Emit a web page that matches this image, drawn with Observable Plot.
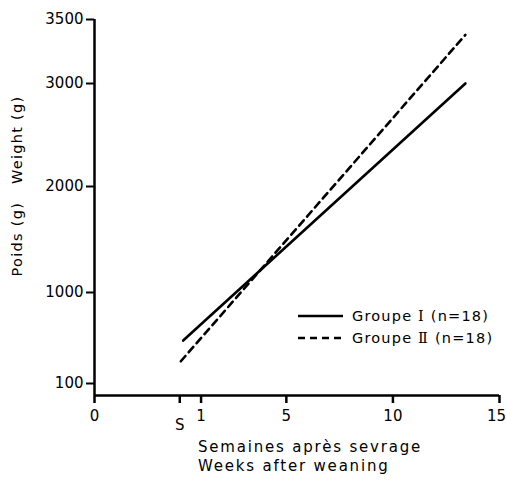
<!DOCTYPE html>
<html>
<head>
<meta charset="utf-8">
<script src="https://cdn.jsdelivr.net/npm/d3@7"></script>
<script src="https://cdn.jsdelivr.net/npm/@observablehq/plot@0.6"></script>
<style>
  html, body { margin: 0; padding: 0; background: #fff; }
  #wrap { position: relative; width: 506px; height: 481px; font-family: "DejaVu Sans", sans-serif; color: #000; overflow: hidden; }
  .t { position: absolute; white-space: pre; font-size: 15px; letter-spacing: 1.8px; line-height: 1; }
  #ytitle { left: 17px; top: 186px; transform: translate(-50%, -50%) rotate(-90deg); font-size: 14.5px; letter-spacing: 1.3px; }
  #leg { position: absolute; left: 298px; top: 305px; font-size: 14.5px; letter-spacing: 1.2px; }
  #leg div { display: flex; align-items: center; height: 22px; white-space: pre; }
  #leg svg { margin-right: 9px; }
  .rn { font-family: "DejaVu Serif", serif; }
</style>
</head>
<body>
<div id="wrap"></div>
<script>
// Data
const groupPrefix = "Groupe ";
const groupNumerals = ["Ⅰ", "Ⅱ"];
const groupSuffix = " (n=18)";
const weeksGroupe1 = [0.16, 13.4];
const weightGroupe1 = [525, 3000];
const weeksGroupe2 = [0.05, 13.4];
const weightGroupe2 = [320, 3380];
const yTicks = [100, 1000, 2000, 3000, 3500];
const xTicks = [-4, 1, 5, 10, 15];
const xTickLabels = ["0", "1", "5", "10", "15"];
const weaningTick = [0];
const weaningLabel = "S";

const g1 = weeksGroupe1.map((w, i) => ({week: w, weight: weightGroupe1[i]}));
const g2 = weeksGroupe2.map((w, i) => ({week: w, weight: weightGroupe2[i]}));

const lastTick = xTicks[xTicks.length - 1];
const fmtX = d => xTickLabels[xTicks.indexOf(d)];

const chart = Plot.plot({
  width: 506,
  height: 481,
  marginLeft: 94,
  marginRight: 7,
  marginTop: 19,
  marginBottom: 86,
  style: {fontFamily: "DejaVu Sans, sans-serif", fontSize: "15px", color: "#000", background: "#fff"},
  x: {type: "linear", domain: [-4, 15]},
  y: {type: "linear", domain: [0, 100, 1000, 2000, 3000, 3500], range: [395, 383, 292, 186, 83, 19]},
  marks: [
    Plot.ruleX([-4], {y1: 0, y2: 3500, stroke: "#000", strokeWidth: 2.5}),
    Plot.ruleY([0], {x1: -4, x2: 15, stroke: "#000", strokeWidth: 2.5}),
    Plot.axisY(yTicks, {tickSize: 8, tickPadding: 3, strokeWidth: 2, fontSize: 15, label: null, tickFormat: d => String(d)}),
    Plot.axisX(xTicks, {tickSize: 8, tickPadding: 7, strokeWidth: 2.5, fontSize: 15, label: null,
      tickFormat: d => d === lastTick ? "" : fmtX(d)}),
    Plot.axisX([lastTick], {tickSize: 0, tickPadding: 15, fontSize: 15, label: null, dx: -3, tickFormat: fmtX}),
    Plot.axisX(weaningTick, {tickSize: 8, tickPadding: 16, strokeWidth: 2.5, fontSize: 15, label: null, tickFormat: () => weaningLabel}),
    Plot.line(g1, {x: "week", y: "weight", stroke: "#000", strokeWidth: 2.6}),
    Plot.line(g2, {x: "week", y: "weight", stroke: "#000", strokeWidth: 2.6, strokeDasharray: "7,5"})
  ]
});

const wrap = document.getElementById("wrap");
wrap.appendChild(chart);

function addText(id, cls, txt, left, top) {
  const d = document.createElement("div");
  if (id) d.id = id;
  d.className = cls;
  d.textContent = txt;
  if (left != null) d.style.left = left + "px";
  if (top != null) d.style.top = top + "px";
  wrap.appendChild(d);
}
addText("ytitle", "t", "Poids (g)   Weight (g)");
addText(null, "t", "Semaines après sevrage", 198, 440);
addText(null, "t", "Weeks after weaning", 198, 459);

const leg = document.createElement("div");
leg.id = "leg";
[["none", groupNumerals[0]], ["7,5", groupNumerals[1]]].forEach(([dash, num]) => {
  const row = document.createElement("div");
  const s = d3.create("svg").attr("width", 45).attr("height", 6);
  s.append("line").attr("x1", 0).attr("x2", 45).attr("y1", 3).attr("y2", 3)
    .attr("stroke", "#000").attr("stroke-width", 2.6).attr("stroke-dasharray", dash);
  row.appendChild(s.node());
  row.appendChild(document.createTextNode(groupPrefix));
  const rn = document.createElement("span");
  rn.className = "rn";
  rn.textContent = num;
  row.appendChild(rn);
  row.appendChild(document.createTextNode(groupSuffix));
  leg.appendChild(row);
});
wrap.appendChild(leg);
</script>
</body>
</html>
